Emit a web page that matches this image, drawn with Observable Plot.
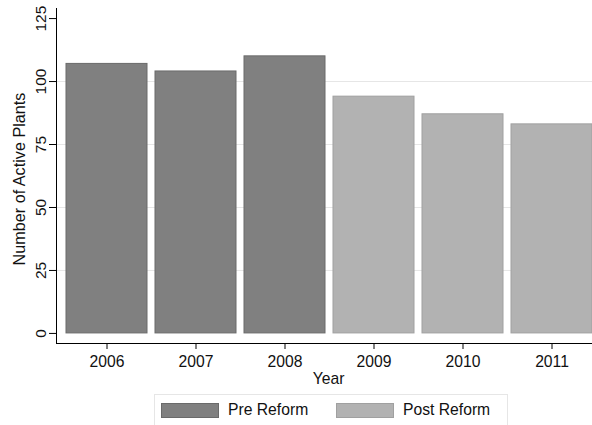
<!DOCTYPE html>
<html>
<head>
<meta charset="utf-8">
<script src="https://cdn.jsdelivr.net/npm/d3@7"></script>
<script src="https://cdn.jsdelivr.net/npm/@observablehq/plot@0.6"></script>
<style>
  body { margin: 0; background: #fff; font-family: "Liberation Sans", Arial, Helvetica, sans-serif; }
  #chart svg { display: block; }
  .legend { margin-left: 154px; margin-top: 2px; width: 352px; height: 30px; border: 1px solid #e6e6e6; position: relative; font-size: 15.7px; color: #111; }
  .item { position: absolute; top: 6px; display: flex; align-items: center; }
  .sw { width: 58px; height: 15px; margin-right: 9px; box-sizing: border-box; }
</style>
</head>
<body>
<div id="chart"></div>
<div class="legend" id="legend"></div>
<script>
const years = ["2006", "2007", "2008", "2009", "2010", "2011"];
const plants = [107, 104, 110, 94, 87, 83];
const periods = ["Pre Reform", "Pre Reform", "Pre Reform", "Post Reform", "Post Reform", "Post Reform"];
const yTicks = [0, 25, 50, 75, 100, 125];
const gridTicks = [25, 50, 75, 100];
const periodNames = ["Pre Reform", "Post Reform"];
const fills = {"Pre Reform": "#808080", "Post Reform": "#b2b2b2"};
const strokes = {"Pre Reform": "#6a6a6a", "Post Reform": "#a0a0a0"};

const data = years.map((y, i) => ({year: y, value: plants[i], period: periods[i]}));
const font = "Liberation Sans, Arial, Helvetica, sans-serif";

const barsFor = p => Plot.barY(data, {
  filter: d => d.period === p,
  x: "year", y: "value",
  fill: fills[p], stroke: strokes[p], strokeWidth: 1
});

const chart = Plot.plot({
  width: 592,
  height: 392,
  marginLeft: 56,
  marginRight: 0,
  marginTop: 8,
  marginBottom: 49,
  style: {fontFamily: font, fontSize: "15px", color: "#111", background: "#fff"},
  x: {type: "band", domain: years, range: [61, 597], paddingInner: 0.09, paddingOuter: 0.045, label: null},
  y: {domain: [-4, 129], range: [343, 8], label: null},
  marks: [
    Plot.gridY(gridTicks, {stroke: "#e6e6e6", strokeOpacity: 1, strokeWidth: 1}),
    barsFor("Pre Reform"),
    barsFor("Post Reform"),
    Plot.frame({anchor: "left", stroke: "#000", strokeWidth: 1}),
    Plot.frame({anchor: "bottom", stroke: "#000", strokeWidth: 1}),
    Plot.axisY({ticks: yTicks, tickSize: 7, tickFormat: () => "", label: null, stroke: "#000"}),
    Plot.text(yTicks, {y: d => d, text: d => String(d), frameAnchor: "left", textAnchor: "middle", dx: -15.5, rotate: -90, fontSize: 15.5, fill: "#111"}),
    Plot.text(["Number of Active Plants"], {frameAnchor: "left", textAnchor: "middle", dx: -36.5, dy: 3, rotate: -90, fontSize: 16.2, fill: "#111"}),
    Plot.axisX({tickSize: 6, tickPadding: 6, fontSize: 15.7, label: null, stroke: "#000", fill: "#111"}),
    Plot.text(["Year"], {frameAnchor: "bottom", dy: 29, dx: 4, lineAnchor: "top", fontSize: 15.7, fill: "#111"})
  ]
});
document.getElementById("chart").appendChild(chart);

const legend = document.getElementById("legend");
const lefts = [6, 181];
periodNames.forEach((p, i) => {
  const item = document.createElement("div");
  item.className = "item";
  item.style.left = lefts[i] + "px";
  const sw = document.createElement("div");
  sw.className = "sw";
  sw.style.background = fills[p];
  sw.style.border = "1px solid " + strokes[p];
  const lab = document.createElement("span");
  lab.textContent = p;
  item.appendChild(sw);
  item.appendChild(lab);
  legend.appendChild(item);
});
</script>
</body>
</html>
